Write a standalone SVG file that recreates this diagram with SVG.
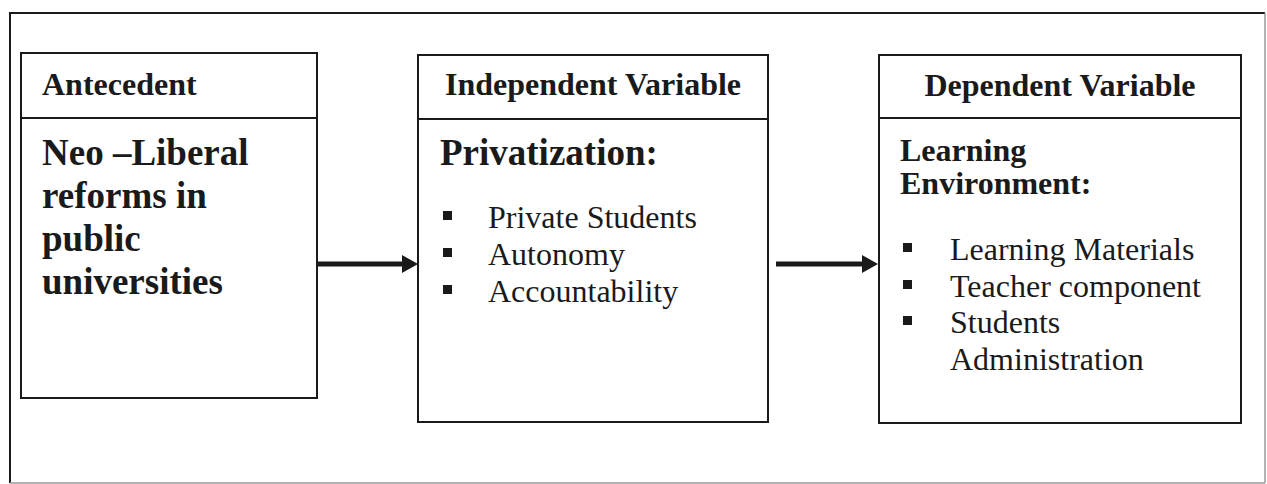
<svg xmlns="http://www.w3.org/2000/svg" width="1267" height="484" viewBox="0 0 1267 484">
  <style>
    .frame { fill: none; stroke: #1a1a1a; stroke-width: 2; }
    .box { fill: #ffffff; stroke: #1a1a1a; stroke-width: 2; }
    .rule { stroke: #1a1a1a; stroke-width: 2; }
    .head { font-family: "Liberation Serif", "Times New Roman", serif; font-weight: bold; font-size: 32px; fill: #1a1a1a; }
    .title { font-family: "Liberation Serif", "Times New Roman", serif; font-weight: bold; font-size: 37px; fill: #1a1a1a; }
    .sub { font-family: "Liberation Serif", "Times New Roman", serif; font-weight: bold; font-size: 32px; fill: #1a1a1a; }
    .item { font-family: "Liberation Serif", "Times New Roman", serif; font-size: 32px; fill: #1a1a1a; }
    .bullet { fill: #1a1a1a; }
    .link { stroke: #1a1a1a; stroke-width: 5; fill: none; }
  </style>
  <defs>
    <marker id="arrowhead" markerUnits="userSpaceOnUse" markerWidth="16" markerHeight="18" refX="2" refY="9" orient="auto">
      <path d="M0,0 L16,9 L0,18 Z" fill="#1a1a1a"/>
    </marker>
  </defs>

  <rect width="1267" height="484" fill="#ffffff"/>

  <!-- outer frame -->
  <g id="frame">
    <path class="frame" d="M10,483 L10,13 L1265,13"/>
    <path d="M1265,13 L1265,483 M10,483 L1265,483" fill="none" stroke="#9a9a9a" stroke-width="1.5"/>
  </g>

  <!-- antecedent -->
  <g id="antecedent">
    <rect class="box" x="21" y="53" width="296" height="345"/>
    <line class="rule" x1="21" y1="118" x2="317" y2="118"/>
    <text class="head" x="42" y="95">Antecedent</text>
    <text class="title" x="42" y="165">Neo –Liberal</text>
    <text class="title" x="42" y="208">reforms in</text>
    <text class="title" x="42" y="251">public</text>
    <text class="title" x="42" y="294">universities</text>
  </g>

  <!-- independent variable -->
  <g id="independent">
    <rect class="box" x="418" y="55" width="350" height="367"/>
    <line class="rule" x1="418" y1="119" x2="768" y2="119"/>
    <text class="head" x="593" y="95" text-anchor="middle">Independent Variable</text>
    <text class="title" x="440" y="165">Privatization:</text>
    <rect class="bullet" x="443" y="211" width="9" height="9"/>
    <text class="item" x="488" y="228">Private Students</text>
    <rect class="bullet" x="443" y="248" width="9" height="9"/>
    <text class="item" x="488" y="265">Autonomy</text>
    <rect class="bullet" x="443" y="285" width="9" height="9"/>
    <text class="item" x="488" y="302">Accountability</text>
  </g>

  <!-- dependent variable -->
  <g id="dependent">
    <rect class="box" x="879" y="55" width="362" height="368"/>
    <line class="rule" x1="879" y1="118" x2="1241" y2="118"/>
    <text class="head" x="1060" y="96" text-anchor="middle">Dependent Variable</text>
    <text class="sub" x="900" y="161">Learning</text>
    <text class="sub" x="900" y="194">Environment:</text>
    <rect class="bullet" x="903" y="243" width="9" height="9"/>
    <text class="item" x="950" y="260">Learning Materials</text>
    <rect class="bullet" x="903" y="280" width="9" height="9"/>
    <text class="item" x="950" y="297">Teacher component</text>
    <rect class="bullet" x="903" y="316" width="9" height="9"/>
    <text class="item" x="950" y="333">Students</text>
    <text class="item" x="950" y="370">Administration</text>
  </g>

  <!-- connectors -->
  <g id="connectors">
    <line class="link" x1="317" y1="264" x2="404" y2="264" marker-end="url(#arrowhead)"/>
    <line class="link" x1="776" y1="264" x2="864" y2="264" marker-end="url(#arrowhead)"/>
  </g>
</svg>
